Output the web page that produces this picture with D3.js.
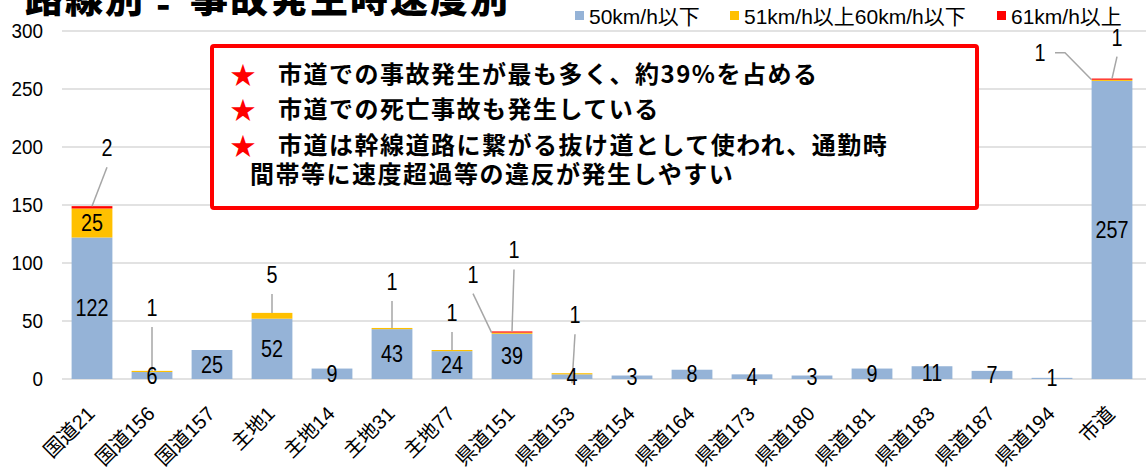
<!DOCTYPE html>
<html><head><meta charset="utf-8">
<script src="https://cdn.jsdelivr.net/npm/d3@7"></script>
<style>
body{margin:0;background:#fff;}
svg{display:block;}
</style></head><body>
<svg id="chart" width="1146" height="470"></svg>
<script>
// ---- data ----
const categories = ["国道21","国道156","国道157","主地1","主地14","主地31","主地77","県道151","県道153","県道154","県道164","県道173","県道180","県道181","県道183","県道187","県道194","市道"];
const seriesNames = ["50km/h以下","51km/h以上60km/h以下","61km/h以上"];
const speedUpTo50 = [122,6,25,52,9,43,24,39,4,3,8,4,3,9,11,7,1,257];
const speed51to60 = [25,1,0,5,0,1,1,1,1,0,0,0,0,0,0,0,0,1];
const speedOver61 = [2,0,0,0,0,0,0,1,0,0,0,0,0,0,0,0,0,1];
const yTicks = [0,50,100,150,200,250,300];
const titleParts = ["路線別", "-", "事故発生時速度別"];
const noteLines = [
  "市道での事故発生が最も多く、約39%を占める",
  "市道での死亡事故も発生している",
  "市道は幹線道路に繋がる抜け道として使われ、通勤時",
  "間帯等に速度超過等の違反が発生しやすい"
];

// ---- layout / style ----
const colors = ["#95b3d7","#ffc000","#ff0000"];
const NUM = '"Liberation Sans","Noto Sans CJK JP",sans-serif';
const JP = '"Noto Sans CJK JP",sans-serif';
const plot = {left:62, right:1142, top:31, bottom:379};
const SX = 0.86; // horizontal condensing of numeric labels

const svg = d3.select("#chart");
const x = d3.scaleBand().domain(categories).range([plot.left, plot.right]).paddingInner(0.32).paddingOuter(0.16);
const y = d3.scaleLinear().domain([0,300]).range([plot.bottom, plot.top]);

// gridlines
svg.append("g").selectAll("line").data(yTicks).join("line")
  .attr("x1", plot.left).attr("x2", 1146)
  .attr("y1", d=>y(d)).attr("y2", d=>y(d))
  .attr("stroke", "#d9d9d9").attr("stroke-width", 1.5);

// y axis labels
const yAxis = d3.axisLeft(y).tickValues(yTicks).tickSize(0).tickPadding(0);
const gy = svg.append("g").attr("transform", `translate(43,0)`).call(yAxis);
gy.select(".domain").remove();
gy.selectAll("text").attr("font-family", NUM).attr("font-size", 21).attr("fill", "#000")
  .attr("transform", "scale(0.9,1)");

// stacked data
const rows = categories.map((c,i)=>({cat:c, s0:speedUpTo50[i], s1:speed51to60[i], s2:speedOver61[i]}));
const stack = d3.stack().keys(["s0","s1","s2"])(rows);

const gBars = svg.append("g");
stack.forEach((layer, si)=>{
  gBars.append("g").selectAll("rect").data(layer.filter(d=>d[1]-d[0]>0)).join("rect")
    .attr("x", d=>x(d.data.cat)).attr("width", x.bandwidth())
    .attr("y", d=>y(d[1])).attr("height", d=>y(d[0])-y(d[1]))
    .attr("fill", colors[si]);
});

function numLabel(g, px, py, txt) {
  g.append("text").attr("transform", `translate(${px},${py}) scale(${SX},1)`)
    .attr("dy","0.35em").attr("text-anchor","middle")
    .attr("font-family", NUM).attr("font-size", 23).attr("fill","#000").text(txt);
}

// callout labels (leader lines)
const callouts = [
 {cat:"国道21", s:2, lx:15, ly:-58},
 {cat:"国道156", s:1, lx:0, ly:-63},
 {cat:"主地1", s:1, lx:0, ly:-38},
 {cat:"主地31", s:1, lx:0, ly:-46},
 {cat:"主地77", s:1, lx:0, ly:-37},
 {cat:"県道151", s:1, lx:-39, ly:-58, anchor:"left"},
 {cat:"県道151", s:2, lx:2, ly:-81},
 {cat:"県道153", s:1, lx:3, ly:-58, endDy:10},
 {cat:"市道", s:1, lx:-72, ly:-27, anchor:"left", elbow:true},
 {cat:"市道", s:2, lx:5, ly:-41}
];
const gLead = svg.append("g");
callouts.forEach(c=>{
  const seg = stack[c.s].find(d=>d.data.cat===c.cat);
  const cx = x(c.cat) + x.bandwidth()/2;
  const topY = y(seg[1]);
  const ax = c.anchor==="left" ? x(c.cat) : cx;
  const ay = topY + (c.endDy||0);
  const lxp = cx + c.lx, lyp = topY + c.ly;
  let pts;
  if (c.elbow) pts = [[lxp+15, lyp],[lxp+25, lyp],[ax, ay]];
  else pts = [[lxp, lyp+19],[ax, ay]];
  gLead.append("path").attr("d", d3.line()(pts)).attr("fill","none")
    .attr("stroke","#a6a6a6").attr("stroke-width",1.5);
  numLabel(gLead, lxp, lyp, seg[1]-seg[0]);
});

// inside labels
const gIn = svg.append("g");
stack[0].forEach(d=>numLabel(gIn, x(d.data.cat)+x.bandwidth()/2, y((d[0]+d[1])/2), d[1]-d[0]));
stack[1].forEach(d=>{ if (d[1]-d[0] >= 10) numLabel(gIn, x(d.data.cat)+x.bandwidth()/2, y((d[0]+d[1])/2), d[1]-d[0]); });

// x axis labels
const xAxis = d3.axisBottom(x).tickSize(0).tickPadding(0);
const gx = svg.append("g").attr("transform", `translate(0,${plot.bottom})`).call(xAxis);
gx.select(".domain").remove();
gx.selectAll("text")
  .attr("font-family", NUM).attr("font-size", 20).attr("fill","#000")
  .attr("text-anchor","end").attr("dy", 0).attr("y", 0)
  .attr("transform", "translate(4,36) rotate(-45)");

// legend
const legendX = [575, 730, 997];
const gLeg = svg.append("g");
seriesNames.forEach((n,i)=>{
  gLeg.append("rect").attr("x", legendX[i]).attr("y", 11).attr("width", 9).attr("height", 9).attr("fill", colors[i]);
  gLeg.append("text").attr("x", legendX[i]+14).attr("y", 17).attr("dy","0.35em")
    .attr("font-family", NUM).attr("font-size", 21).text(n);
});

// title (cut off at top)
const tt = svg.append("text").attr("y", 12).attr("font-family", JP).attr("font-weight", 900)
  .attr("font-size", 38).attr("letter-spacing", 2).attr("fill","#000");
tt.append("tspan").attr("x", 25).text(titleParts[0]);
tt.append("tspan").attr("x", 156).attr("dy", 6).text(titleParts[1]);
tt.append("tspan").attr("x", 190).attr("dy", -6).text(titleParts[2]);

// annotation box
const box = svg.append("g");
box.append("rect").attr("x", 212).attr("y", 46).attr("width", 765).attr("height", 162)
  .attr("rx", 2).attr("fill", "#fff").attr("stroke", "#ff0000").attr("stroke-width", 4);
const lineY = [75, 110, 146, 175];
noteLines.forEach((t,i)=>{
  if (i < 3) {
    box.append("text").attr("x", 243).attr("y", lineY[i]).attr("dy","0.35em").attr("text-anchor","middle")
      .attr("font-family", JP).attr("font-size", 25).attr("fill", "#ff0000").text("★");
  }
  box.append("text").attr("x", i<3 ? 278 : 250).attr("y", lineY[i]).attr("dy","0.35em")
    .attr("font-family", JP).attr("font-weight", 700).attr("font-size", 24).attr("letter-spacing", 1.5)
    .attr("fill", "#000").text(t);
});
</script>
</body></html>
